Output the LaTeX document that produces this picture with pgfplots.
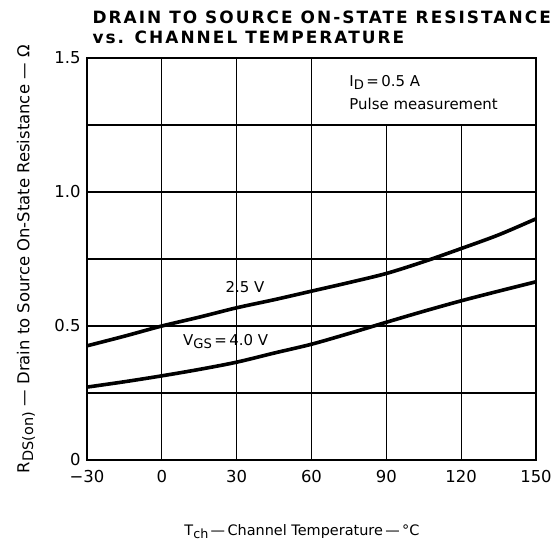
\documentclass[border=0pt]{standalone}
\usepackage{fontspec}
\setmainfont{DejaVu Sans}
\newfontfamily\titlefont[LetterSpace=12]{DejaVu Sans}
\usepackage{pgfplots}
\pgfplotsset{compat=1.18}
\newcommand\sub[1]{\raisebox{-0.4ex}{\scalebox{0.88}{#1}}}
\begin{document}
\begin{tikzpicture}
\begin{axis}[
  scale only axis, width=449bp, height=402bp,
  xmin=-30, xmax=150, ymin=0, ymax=1.5,
  xtick={-30,0,30,60,90,120,150},
  xticklabels={−30,0,30,60,90,120,150},
  ytick={0,0.5,1,1.5},
  yticklabels={0,0.5,1.0,1.5},
  minor ytick={0.25,0.75,1.25},
  ymajorgrids, yminorgrids,
  major grid style={black, line width=1.1bp},
  minor grid style={black, line width=1.1bp},
  major tick length=0, minor tick length=0,
  axis line style={line width=1.8bp},
  tick label style={font=\fontsize{16.5}{19}\selectfont},
  xticklabel style={yshift=-7bp},
  yticklabel style={xshift=-3bp},
  clip=false,
]
\draw[black, line width=1.1bp] (axis cs:0,0) -- (axis cs:0,1.5);
\draw[black, line width=1.1bp] (axis cs:30,0) -- (axis cs:30,1.5);
\draw[black, line width=1.1bp] (axis cs:60,0) -- (axis cs:60,1.5);
\draw[black, line width=1.1bp] (axis cs:90,0) -- (axis cs:90,1.25);
\draw[black, line width=1.1bp] (axis cs:120,0) -- (axis cs:120,1.25);
\addplot[black, line width=3.6bp, smooth] coordinates {
 (-30,0.426) (-15,0.462) (0,0.50) (15,0.533) (30,0.568) (45,0.598) (60,0.63) (75,0.662) (90,0.696) (105,0.74) (120,0.789) (135,0.84) (150,0.90)};
\addplot[black, line width=3.6bp, smooth] coordinates {
 (-30,0.272) (-15,0.292) (0,0.314) (15,0.338) (30,0.365) (45,0.399) (60,0.432) (75,0.472) (90,0.514) (105,0.555) (120,0.594) (135,0.63) (150,0.665)};
\node[font=\fontsize{15}{17}\selectfont, anchor=west] at (axis cs:73.8,1.408) {I\sub{D}\,=\,0.5 A};
\node[font=\fontsize{15}{17}\selectfont, anchor=west] at (axis cs:73.8,1.328) {Pulse measurement};
\node[font=\fontsize{15}{17}\selectfont] at (axis cs:33.3,0.646) {2.5 V};
\node[font=\fontsize{15}{17}\selectfont] at (axis cs:25.6,0.442) {V\sub{GS}\,=\,4.0 V};
\end{axis}
\node[anchor=north west, align=left, font=\titlefont\bfseries\fontsize{17}{20}\selectfont] at ([shift={(2bp,51bp)}]current axis.north west) {DRAIN TO SOURCE ON-STATE RESISTANCE\\vs. CHANNEL TEMPERATURE};
\node[anchor=base, font=\fontsize{14.5}{18}\selectfont] at ([shift={(215bp,-75bp)}]current axis.south west) {T\sub{ch}\,—\,Channel Temperature\,—\,°C};
\node[rotate=90, font=\fontsize{16.5}{18}\selectfont] at ([shift={(-61bp,201bp)}]current axis.south west) {R\sub{DS(on)}\,\,—\,\,Drain to Source On-State Resistance\,\,—\,\,Ω};
\pgfresetboundingbox
\path ([shift={(-87bp,-87bp)}]current axis.south west) rectangle ([shift={(22bp,58bp)}]current axis.north east);
\end{tikzpicture}
\end{document}
